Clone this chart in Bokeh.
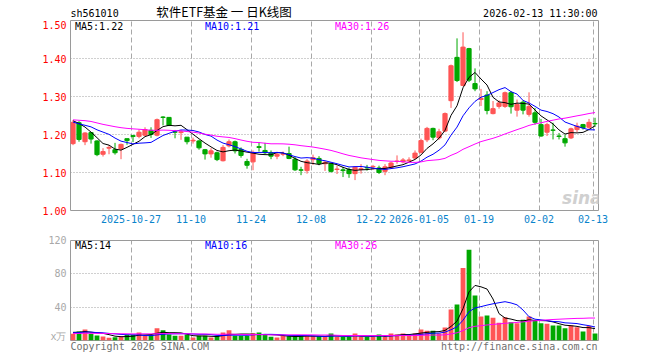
import pandas as pd
from bokeh.plotting import figure
from bokeh.layouts import column
from bokeh.models import (ColumnDataSource, Range1d, FixedTicker, Label,
                          CustomJSTickFormatter, PrintfTickFormatter)
from bokeh.core.properties import value
from bokeh.embed import file_html
from bokeh.resources import INLINE

symbol = "sh561010"
title_text = "软件ETF基金 一 日K线图"
stamp = "2026-02-13 11:30:00"

holidays = ["2026-01-01", "2026-01-02"]
dates = [d.strftime("%Y-%m-%d") for d in pd.bdate_range("2025-10-13", "2026-02-13")
         if d.strftime("%Y-%m-%d") not in holidays]

opens = [1.176, 1.231, 1.181, 1.205, 1.183, 1.148, 1.164, 1.160, 1.162, 1.189,
         1.197, 1.195, 1.198, 1.211, 1.198, 1.246, 1.245, 1.207, 1.205, 1.193,
         1.183, 1.183, 1.160, 1.149, 1.152, 1.131, 1.170, 1.181, 1.161, 1.129,
         1.128, 1.168, 1.158, 1.152, 1.143, 1.148, 1.150, 1.135, 1.107, 1.105,
         1.134, 1.137, 1.123, 1.123, 1.108, 1.107, 1.108, 1.097, 1.108, 1.113,
         1.115, 1.112, 1.103, 1.113, 1.129, 1.128, 1.131, 1.138, 1.153, 1.186,
         1.216, 1.191, 1.209, 1.289, 1.403, 1.329, 1.426, 1.334, 1.292, 1.304,
         1.255, 1.274, 1.274, 1.310, 1.264, 1.285, 1.253, 1.257, 1.226, 1.206,
         1.212, 1.196, 1.189, 1.191, 1.213, 1.226, 1.219, 1.229]
highs = [1.238, 1.235, 1.206, 1.206, 1.185, 1.164, 1.172, 1.178, 1.176, 1.189,
         1.199, 1.213, 1.219, 1.219, 1.242, 1.248, 1.246, 1.212, 1.212, 1.193,
         1.192, 1.186, 1.162, 1.164, 1.155, 1.172, 1.187, 1.184, 1.166, 1.136,
         1.158, 1.180, 1.178, 1.158, 1.153, 1.155, 1.168, 1.141, 1.115, 1.135,
         1.147, 1.143, 1.130, 1.125, 1.118, 1.115, 1.113, 1.116, 1.122, 1.120,
         1.120, 1.118, 1.122, 1.128, 1.145, 1.138, 1.140, 1.158, 1.189, 1.220,
         1.218, 1.215, 1.258, 1.384, 1.453, 1.469, 1.428, 1.374, 1.320, 1.314,
         1.288, 1.290, 1.313, 1.314, 1.292, 1.290, 1.311, 1.270, 1.241, 1.231,
         1.231, 1.204, 1.200, 1.218, 1.231, 1.228, 1.241, 1.244]
lows = [1.172, 1.181, 1.172, 1.176, 1.143, 1.142, 1.148, 1.147, 1.135, 1.173,
        1.180, 1.190, 1.195, 1.191, 1.195, 1.224, 1.222, 1.190, 1.186, 1.174,
        1.176, 1.160, 1.134, 1.139, 1.130, 1.129, 1.166, 1.150, 1.139, 1.110,
        1.106, 1.155, 1.148, 1.135, 1.135, 1.143, 1.135, 1.104, 1.093, 1.097,
        1.120, 1.119, 1.104, 1.100, 1.096, 1.088, 1.086, 1.080, 1.097, 1.105,
        1.107, 1.096, 1.093, 1.110, 1.123, 1.124, 1.127, 1.135, 1.150, 1.180,
        1.185, 1.186, 1.206, 1.270, 1.338, 1.327, 1.338, 1.314, 1.275, 1.253,
        1.253, 1.268, 1.270, 1.255, 1.247, 1.253, 1.247, 1.226, 1.194, 1.196,
        1.187, 1.187, 1.168, 1.188, 1.206, 1.213, 1.215, 1.220]
closes = [1.232, 1.187, 1.204, 1.188, 1.147, 1.155, 1.166, 1.152, 1.174, 1.184,
          1.195, 1.206, 1.213, 1.200, 1.239, 1.245, 1.224, 1.206, 1.207, 1.181,
          1.185, 1.165, 1.149, 1.157, 1.134, 1.166, 1.181, 1.157, 1.145, 1.119,
          1.153, 1.166, 1.152, 1.143, 1.148, 1.149, 1.137, 1.107, 1.106, 1.130,
          1.139, 1.124, 1.127, 1.103, 1.109, 1.105, 1.097, 1.114, 1.110, 1.112,
          1.116, 1.100, 1.115, 1.125, 1.130, 1.133, 1.133, 1.151, 1.184, 1.216,
          1.193, 1.207, 1.255, 1.381, 1.342, 1.430, 1.343, 1.320, 1.295, 1.263,
          1.268, 1.283, 1.310, 1.273, 1.279, 1.264, 1.274, 1.232, 1.196, 1.226,
          1.211, 1.195, 1.178, 1.215, 1.222, 1.218, 1.232, 1.228]
volumes = [8.0, 10.8, 13.2, 8.0, 6.0, 4.8, 3.2, 4.0, 4.8, 6.8,
           6.8, 9.6, 5.6, 6.8, 14.8, 12.4, 7.2, 5.6, 5.6, 6.8,
           3.6, 5.6, 5.6, 3.6, 5.6, 9.6, 12.4, 5.6, 5.6, 5.6,
           8.8, 9.6, 6.8, 4.4, 3.6, 5.6, 5.2, 5.2, 5.2, 5.2,
           5.2, 5.2, 4.4, 8.4, 4.4, 4.4, 4.4, 8.4, 4.4, 4.4,
           4.4, 7.2, 4.4, 8.4, 7.2, 8.4, 7.2, 8.4, 13.2, 11.6,
           11.6, 8.4, 15.6, 37.2, 43.2, 87.0, 109.0, 54.0, 28.8, 30.0,
           27.2, 21.2, 28.0, 22.0, 20.8, 24.8, 28.8, 24.0, 20.8, 20.0,
           18.0, 18.0, 14.8, 18.0, 16.0, 10.8, 17.5, 8.5]

# estimated sessions before the window, used only to start the moving averages
prior_closes = [1.220, 1.235, 1.250, 1.262, 1.270, 1.258, 1.245, 1.250, 1.240, 1.232,
                1.238, 1.250, 1.245, 1.241, 1.228, 1.240, 1.236, 1.225, 1.230, 1.234,
                1.235, 1.240, 1.230, 1.225, 1.215, 1.225, 1.250, 1.255, 1.220]
prior_volumes = [9, 7, 8, 10, 6, 8, 9, 7, 8, 11, 7, 6, 8, 9, 7, 8, 10, 7, 6, 9,
                 8, 7, 9, 11, 8, 10, 9, 12, 10]

tick_dates = ["2025-10-27", "2025-11-10", "2025-11-24", "2025-12-08", "2025-12-22",
              "2026-01-05", "2026-01-19", "2026-02-02", "2026-02-13"]
tick_labels = ["2025-10-27", "11-10", "11-24", "12-08", "12-22",
               "2026-01-05", "01-19", "02-02", "02-13"]
price_ticks = [1.0, 1.1, 1.2, 1.3, 1.4, 1.5]
volume_ticks = [0, 40, 80, 120]
price_ma_text = ["MA5:1.22", "MA10:1.21", "MA30:1.26"]
volume_ma_text = ["MA5:14", "MA10:16", "MA30:26"]
unit_text = "x万"
copyright_text = "Copyright 2026 SINA.COM"
url_text = "http://finance.sina.com.cn"

RED = "#ff5555"
GREEN = "#00a800"
MA_COLORS = ["#000000", "#0000ff", "#ff00ff"]
MONO = "DejaVu Sans Mono"
LEFT, RIGHT = 70, 598  # plot frame edges in page pixels

n = len(closes)
xs = list(range(n))
colors = [RED if c >= o else GREEN for o, c in zip(opens, closes)]

cs = pd.Series(prior_closes + closes)
vs = pd.Series(prior_volumes + volumes)
price_ma = [cs.rolling(w).mean().to_numpy()[-n:] for w in (5, 10, 30)]
vol_ma = [vs.rolling(w).mean().to_numpy()[-n:] for w in (5, 10, 30)]

src = ColumnDataSource(dict(
    x=xs, o=opens, h=highs, l=lows, c=closes, v=volumes, color=colors,
    top=[max(o, c) for o, c in zip(opens, closes)],
    bot=[min(o, c) for o, c in zip(opens, closes)],
    pm5=price_ma[0], pm10=price_ma[1], pm30=price_ma[2],
    vm5=vol_ma[0], vm10=vol_ma[1], vm30=vol_ma[2],
))

tick_pos = [dates.index(d) - 0.33 for d in tick_dates]
label_list = [""] * n
for d, t in zip(tick_dates, tick_labels):
    label_list[dates.index(d)] = t

x_lo, x_hi = -0.42, n - 0.42


def style(fig):
    fig.outline_line_color = "#9a9a9a"
    fig.outline_line_width = 1
    fig.xgrid.ticker = FixedTicker(ticks=tick_pos)
    fig.xgrid.grid_line_color = "#a8a8a8"
    fig.xgrid.grid_line_dash = "5 3"
    fig.ygrid.grid_line_color = "#a0a0a0"
    fig.ygrid.grid_line_dash = "1 2"
    for ax in fig.axis:
        ax.axis_line_color = None
        ax.major_tick_line_color = None
        ax.minor_tick_line_color = None
        ax.major_tick_out = 0
        ax.major_tick_in = 0
        ax.minor_tick_out = 0
        ax.minor_tick_in = 0
        ax.major_label_text_font = MONO
        ax.major_label_text_font_size = "10px"
    fig.yaxis.major_label_standoff = 4


def text_strip(height):
    # frame spans the same columns as the plots; x data = page pixel
    f = figure(width=660, height=height, x_range=Range1d(LEFT, RIGHT), y_range=Range1d(height, 0),
               x_axis_location=None, y_axis_location=None,
               min_border_left=LEFT, min_border_right=660 - RIGHT,
               min_border_top=0, min_border_bottom=0,
               output_backend="svg", toolbar_location=None)
    f.outline_line_color = None
    f.grid.visible = False
    return f


# ---------------- header ----------------
hd = text_strip(20)
hd.text(x=[70], y=[13], text=[symbol], text_font=value(MONO), text_font_size="10px",
        text_align="left", text_baseline="middle", text_color="#000000")
hd.text(x=[223.5], y=[10.5], text=[title_text], text_font=value("Noto Sans CJK SC"),
        text_font_size="12.5px", text_align="center", text_baseline="middle", text_color="#000000")
hd.text(x=[597], y=[13], text=[stamp], text_font=value(MONO), text_font_size="10px",
        text_align="right", text_baseline="middle", text_color="#000000")

# ---------------- price pane ----------------
p = figure(width=660, height=210, x_range=Range1d(x_lo, x_hi), y_range=Range1d(1.0, 1.5),
           output_backend="svg", toolbar_location=None,
           min_border_left=LEFT, min_border_right=660 - RIGHT, min_border_top=0, min_border_bottom=20)
style(p)
p.yaxis.ticker = FixedTicker(ticks=price_ticks)
p.yaxis.formatter = PrintfTickFormatter(format="%.2f")
p.yaxis.major_label_text_color = "#ff0000"
p.ygrid.ticker = FixedTicker(ticks=price_ticks[1:-1])
p.xaxis.ticker = FixedTicker(ticks=tick_pos)
p.xaxis.formatter = CustomJSTickFormatter(args=dict(labels=label_list),
                                          code="return labels[Math.round(tick)] || '';")
p.xaxis.major_label_text_color = "#0a84cc"
p.xaxis.major_label_standoff = 4

p.segment(x0="x", y0="h", x1="x", y1="l", color="color", line_width=1, source=src)
p.vbar(x="x", width=0.7, top="top", bottom="bot", fill_color="color",
       line_color="color", line_width=1, source=src)
for col, clr in zip(("pm5", "pm10", "pm30"), MA_COLORS):
    p.line("x", col, color=clr, line_width=1, source=src)

ppx = 0.5 / 190.0  # price per pixel
for xp, t, clr in zip((74.5, 204.5, 334.5), price_ma_text, MA_COLORS):
    p.add_layout(Label(x=(xp - 72.5) / 6.0, y=1.5 - 6 * ppx, text=t, text_font=MONO,
                       text_font_size="10px", text_color=clr, text_align="left",
                       text_baseline="middle"))
p.add_layout(Label(x=84.8, y=1.0 + 13 * ppx, text="sina", text_font="DejaVu Sans",
                   text_font_size="17px", text_font_style="bold italic", text_color="#d0d0d0",
                   text_align="center", text_baseline="middle"))

# ---------------- volume pane ----------------
q = figure(width=660, height=111, x_range=p.x_range, y_range=Range1d(0, 120),
           output_backend="svg", toolbar_location=None,
           min_border_left=LEFT, min_border_right=660 - RIGHT, min_border_top=10, min_border_bottom=1)
style(q)
q.xaxis.visible = False
q.yaxis.ticker = FixedTicker(ticks=volume_ticks)
q.yaxis.major_label_overrides = {0: unit_text}
q.yaxis.major_label_text_color = "#a8a8a8"
q.ygrid.ticker = FixedTicker(ticks=volume_ticks[1:-1])

q.vbar(x="x", width=0.8, top="v", bottom=0, fill_color="color", line_color=None, source=src)
for col, clr in zip(("vm5", "vm10", "vm30"), MA_COLORS):
    q.line("x", col, color=clr, line_width=1, source=src)

vpx = 120 / 100.0
for xp, t, clr in zip((74.5, 204.5, 334.5), volume_ma_text, MA_COLORS):
    q.add_layout(Label(x=(xp - 72.5) / 6.0, y=120 - 5 * vpx, text=t, text_font=MONO,
                       text_font_size="10px", text_color=clr, text_align="left",
                       text_baseline="middle"))

# ---------------- footer ----------------
ft = text_strip(19)
ft.text(x=[70], y=[5], text=[copyright_text], text_font=value(MONO), text_font_size="10px",
        text_align="left", text_baseline="middle", text_color="#707070")
ft.text(x=[597], y=[5], text=[url_text], text_font=value(MONO), text_font_size="10px",
        text_align="right", text_baseline="middle", text_color="#707070")

layout = column(hd, p, q, ft, spacing=0)
open("out.html", "w").write(file_html(layout, INLINE))
